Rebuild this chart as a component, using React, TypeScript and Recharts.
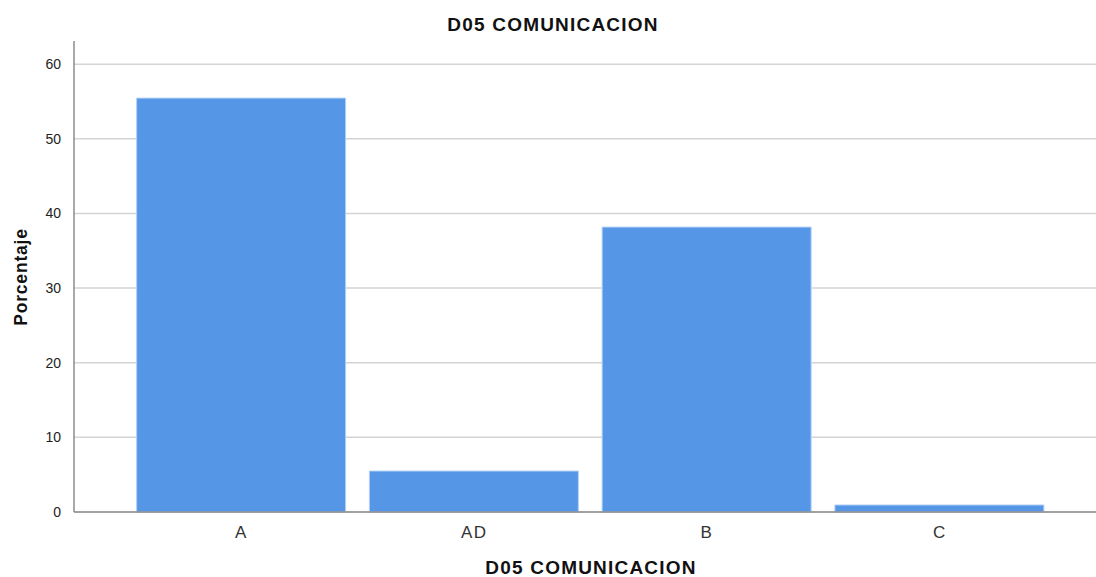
import React from "react";
import { BarChart, Bar, XAxis, YAxis, CartesianGrid } from "recharts";

const categories = ["A", "AD", "B", "C"];
const percentages = [55.45, 5.49, 38.17, 0.94];
const yTicks = [0, 10, 20, 30, 40, 50, 60];

const data = categories.map((c, i) => ({ name: c, value: percentages[i] }));

const font = "'Liberation Sans', Arial, sans-serif";

export default function App() {
  return (
    <div style={{ position: "absolute", left: 0, top: 0, width: 1096, height: 577, background: "#fff", fontFamily: font }}>
      <BarChart
        width={1096}
        height={577}
        data={data}
        margin={{ top: 41, right: 0, bottom: 0, left: 0 }}
        barCategoryGap="5%"
      >
        <CartesianGrid vertical={false} horizontalValues={yTicks} stroke="#d4d4d4" strokeWidth={1.5} />
        <XAxis
          dataKey="name"
          height={65}
          padding={{ left: 51, right: 40 }}
          tickLine={false}
          axisLine={{ stroke: "#8c8c8c", strokeWidth: 1.5 }}
          tick={{ fill: "#333", fontSize: 17, fontFamily: font, letterSpacing: 1.2 }}
          tickMargin={8}
        />
        <YAxis
          width={74}
          domain={[0, 63.1]}
          ticks={yTicks}
          tickLine={false}
          axisLine={{ stroke: "#8c8c8c", strokeWidth: 1.5 }}
          tick={{ fill: "#222", fontSize: 14, fontFamily: font }}
          tickMargin={7}
        />
        <Bar dataKey="value" fill="#5597e6" stroke="#b3d0f5" strokeWidth={1} isAnimationActive={false} />
      </BarChart>
      <div style={{ position: "absolute", top: 14, left: 0, width: 1106, textAlign: "center", fontWeight: "bold", fontSize: 19, letterSpacing: 1.2, color: "#111" }}>
        D05 COMUNICACION
      </div>
      <div style={{ position: "absolute", top: 557, left: 74, width: 1034, textAlign: "center", fontWeight: "bold", fontSize: 19, letterSpacing: 1.2, color: "#111" }}>
        D05 COMUNICACION
      </div>
      <div
        style={{
          position: "absolute",
          left: 21,
          top: 277,
          transform: "translate(-50%, -50%) rotate(-90deg)",
          fontWeight: "bold",
          fontSize: 17.5,
          letterSpacing: 0.8,
          color: "#111",
          whiteSpace: "nowrap",
        }}
      >
        Porcentaje
      </div>
    </div>
  );
}
